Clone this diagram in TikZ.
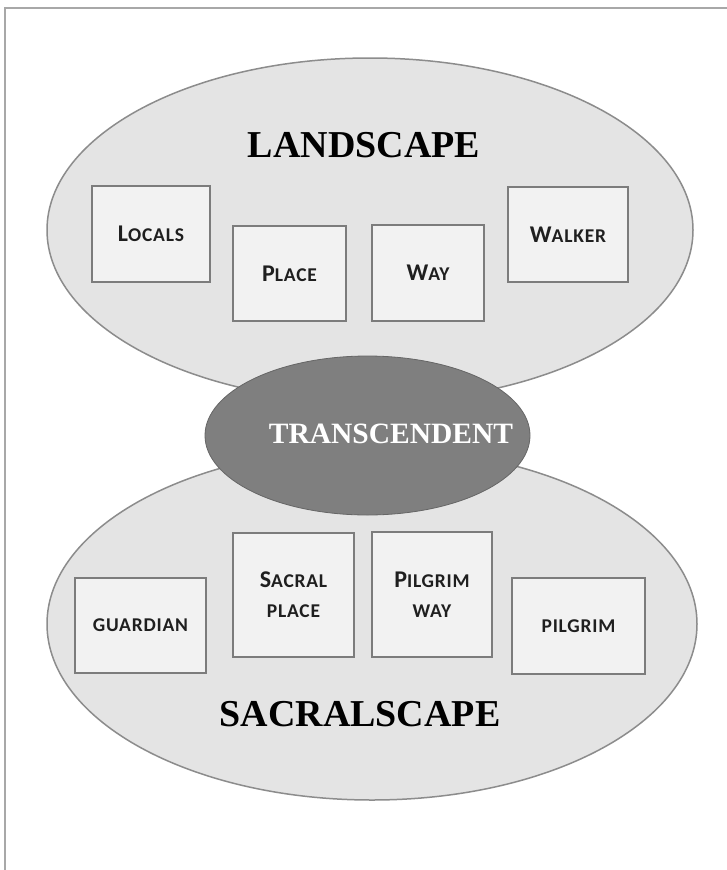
\documentclass[tikz,border=0pt]{standalone}
\usepackage{fontspec}
\usetikzlibrary{shapes.geometric}
\setmainfont{Liberation Serif}
\newfontfamily\boxfont[LetterSpace=4]{Carlito}
\definecolor{ellfill}{HTML}{E4E4E4}
\definecolor{ellline}{HTML}{8C8C8C}
\definecolor{boxfill}{HTML}{F2F2F2}
\definecolor{boxline}{HTML}{7C7C7C}
\definecolor{darkfill}{HTML}{7F7F7F}
\definecolor{framecol}{HTML}{A8A8A8}
\newcommand{\bgc}[1]{{\fontsize{24}{24}\selectfont #1}}
\newcommand{\smc}[1]{{\fontsize{19.5}{19.5}\selectfont #1}}
\tikzset{
  outerell/.style={draw=ellline, fill=ellfill, line width=1.5pt},
  boxnode/.style={draw=boxline, fill=boxfill, line width=2pt, inner sep=0pt, font=\boxfont\bfseries, align=center, text=black!88},
  titlenode/.style={font=\fontsize{38}{38}\selectfont\bfseries, inner sep=0pt}
}
\begin{document}
\begin{tikzpicture}[x=1pt,y=-1pt]
\useasboundingbox (0,0) rectangle (727,870);
\fill[white] (0,0) rectangle (727,870);
% frame (top and left edges)
\draw[framecol, line width=2pt] (727,8) -- (5,8) -- (5,870);
% outer ellipses
\draw[outerell] (370,230) ellipse [x radius=323, y radius=172];
\draw[outerell] (372,624) ellipse [x radius=325, y radius=176];
% titles
\node[titlenode] (land) at (364,145) {LANDSCAPE};
\node[titlenode] (sacr) at (360,714) {SACRALSCAPE};
% top boxes
\node[boxnode, minimum width=118pt, minimum height=96pt] (locals) at (151,234) {\bgc{L}\smc{OCALS}};
\node[boxnode, minimum width=113pt, minimum height=95pt] (place) at (289.5,273.5) {\bgc{P}\smc{LACE}};
\node[boxnode, minimum width=112pt, minimum height=96pt] (way) at (428,273) {\bgc{W}\smc{AY}};
\node[boxnode, minimum width=120pt, minimum height=95pt] (walker) at (568,234.5) {\bgc{W}\smc{ALKER}};
% bottom boxes
\node[boxnode, minimum width=131pt, minimum height=95pt] (guardian) at (140.5,625.5) {\smc{GUARDIAN}};
\node[boxnode, minimum width=121pt, minimum height=124pt] (sacralplace) at (293.5,595) {\bgc{S}\smc{ACRAL}\\[16pt]\smc{PLACE}};
\node[boxnode, minimum width=120pt, minimum height=125pt] (pilgrimway) at (432,594.5) {\bgc{P}\smc{ILGRIM}\\[16pt]\smc{WAY}};
\node[boxnode, minimum width=133pt, minimum height=96pt] (pilgrim) at (578.5,626) {\smc{PILGRIM}};
% transcendent
\node[draw=darkfill!80!black, fill=darkfill, line width=0.8pt, ellipse, minimum width=325pt, minimum height=159pt, inner sep=0pt] (trans) at (367.5,435.5) {};
\node[font=\fontsize{29.5}{29.5}\selectfont\bfseries, text=white, inner sep=0pt] (transtext) at (391,434) {TRANSCENDENT};
\end{tikzpicture}
\end{document}
